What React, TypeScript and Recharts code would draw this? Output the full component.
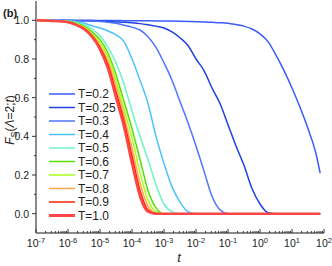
import { LineChart, Line, XAxis, YAxis } from "recharts";

// time grid (t), shared by all curves
const TIME = [
  1e-7, 3.16e-7, 1e-6, 1.78e-6, 3.16e-6, 5.62e-6, 1e-5, 1.78e-5, 3.16e-5, 5.62e-5,
  1e-4, 1.78e-4, 3.16e-4, 5.62e-4, 1e-3, 1.78e-3, 3.16e-3, 5.62e-3, 0.01, 0.0178,
  0.0316, 0.0562, 0.1, 0.178, 0.316, 0.562, 1, 1.78, 3.16, 5.62, 10, 17.8, 31.6, 56.2, 76,
];

const FS_T02 = [
  1, 1, 1, 1, 1, 1, 0.999, 0.999, 0.999, 0.998, 0.998, 0.998, 0.998, 0.997, 0.997, 0.996,
  0.995, 0.994, 0.993, 0.992, 0.99, 0.988, 0.985, 0.978, 0.97, 0.955, 0.93, 0.89, 0.82,
  0.74, 0.65, 0.55, 0.44, 0.31, 0.21,
];
const FS_T025 = [
  1, 1, 0.999, 0.998, 0.998, 0.997, 0.996, 0.994, 0.992, 0.99, 0.987, 0.983, 0.977, 0.97,
  0.96, 0.94, 0.91, 0.87, 0.8, 0.74, 0.65, 0.57, 0.46, 0.35, 0.25, 0.13, 0.05, 0.005,
  0, 0, 0, 0, 0, 0, 0,
];
const FS_T03 = [
  1, 1, 0.999, 0.998, 0.997, 0.996, 0.994, 0.99, 0.985, 0.975, 0.965, 0.95, 0.915, 0.86,
  0.78, 0.69, 0.58, 0.47, 0.35, 0.22, 0.09, 0.02, 0,
  0, 0, 0, 0, 0, 0, 0, 0, 0, 0, 0, 0,
];
const FS_T04 = [
  1, 0.999, 0.997, 0.993, 0.985, 0.972, 0.96, 0.945, 0.925, 0.89, 0.8, 0.69, 0.57, 0.4,
  0.26, 0.14, 0.06, 0.01, 0,
  0, 0, 0, 0, 0, 0, 0, 0, 0, 0, 0, 0, 0, 0, 0, 0, 0,
];
const FS_T05 = [
  1, 0.999, 0.996, 0.989, 0.977, 0.955, 0.92, 0.86, 0.78, 0.67, 0.53, 0.4, 0.28, 0.15,
  0.05, 0.01, 0,
  0, 0, 0, 0, 0, 0, 0, 0, 0, 0, 0, 0, 0, 0, 0, 0, 0, 0,
];
const FS_T06 = [
  1, 0.998, 0.994, 0.985, 0.97, 0.94, 0.9, 0.83, 0.72, 0.58, 0.44, 0.28, 0.12, 0.03, 0,
  0, 0, 0, 0, 0, 0, 0, 0, 0, 0, 0, 0, 0, 0, 0, 0, 0, 0, 0, 0,
];
const FS_T07 = [
  1, 0.998, 0.993, 0.983, 0.966, 0.93, 0.885, 0.81, 0.69, 0.54, 0.39, 0.21, 0.07, 0.01, 0,
  0, 0, 0, 0, 0, 0, 0, 0, 0, 0, 0, 0, 0, 0, 0, 0, 0, 0, 0, 0,
];
const FS_T08 = [
  1, 0.998, 0.992, 0.981, 0.962, 0.925, 0.87, 0.79, 0.66, 0.51, 0.34, 0.16, 0.04, 0.003, 0,
  0, 0, 0, 0, 0, 0, 0, 0, 0, 0, 0, 0, 0, 0, 0, 0, 0, 0, 0, 0,
];
const FS_T09 = [
  1, 0.997, 0.991, 0.979, 0.958, 0.92, 0.86, 0.77, 0.63, 0.48, 0.3, 0.12, 0.02, 0,
  0, 0, 0, 0, 0, 0, 0, 0, 0, 0, 0, 0, 0, 0, 0, 0, 0, 0, 0, 0, 0,
];
const FS_T10 = [
  1, 0.997, 0.99, 0.977, 0.955, 0.915, 0.85, 0.75, 0.6, 0.45, 0.26, 0.09, 0.01, 0,
  0, 0, 0, 0, 0, 0, 0, 0, 0, 0, 0, 0, 0, 0, 0, 0, 0, 0, 0, 0, 0,
];

const LABELS = ["T=0.2", "T=0.25", "T=0.3", "T=0.4", "T=0.5", "T=0.6", "T=0.7", "T=0.8", "T=0.9", "T=1.0"];
const VALUES = [FS_T02, FS_T025, FS_T03, FS_T04, FS_T05, FS_T06, FS_T07, FS_T08, FS_T09, FS_T10];
const COLORS = [
  "#3a5cff", "#2040e0", "#4f74ff", "#4cc2ff", "#6ff5c5",
  "#55e000", "#a8ff1a", "#ffa64d", "#ff2000", "#ff4545",
];
const WIDTHS = [1.5, 1.5, 1.5, 1.5, 1.5, 1.5, 1.5, 1.5, 1.5, 2.5];

const X_EXPONENTS = [-7, -6, -5, -4, -3, -2, -1, 0, 1, 2];
const Y_MAJOR = [0, 0.2, 0.4, 0.6, 0.8, 1.0];
const Y_MINOR = [0.1, 0.3, 0.5, 0.7, 0.9];

const X_MAJOR = X_EXPONENTS.map((e) => Math.pow(10, e));
const X_MINOR = X_EXPONENTS.slice(0, -1).flatMap((e) =>
  [2, 3, 4, 5, 6, 7, 8, 9].map((m) => m * Math.pow(10, e))
);
const X_TICKS = [...X_MAJOR, ...X_MINOR].sort((a, b) => a - b);
const Y_TICKS = [...Y_MAJOR, ...Y_MINOR].sort((a, b) => a - b);

const data = TIME.map((t, i) => {
  const row: Record<string, number> = { t };
  VALUES.forEach((v, k) => {
    row["s" + k] = v[i];
  });
  return row;
});

const FONT = "'Liberation Sans', Arial, sans-serif";

const isMajorX = (v: number) => {
  const l = Math.log10(v);
  return Math.abs(l - Math.round(l)) < 1e-6;
};
const isMajorY = (v: number) => Math.round(v * 10) % 2 === 0;

const BottomTick = (props: any) => {
  const { x, y, payload } = props;
  const major = isMajorX(payload.value);
  const exp = Math.round(Math.log10(payload.value));
  return (
    <g>
      <line x1={x} x2={x} y1={y} y2={y - (major ? 4 : 2)} stroke="#333" strokeWidth={1} />
      {major && (
        <text x={x} y={y + 14} textAnchor="middle" fontSize={10.5} fill="#222" fontFamily={FONT}>
          10
          <tspan dy={-4} fontSize={7.5}>
            {String(exp)}
          </tspan>
        </text>
      )}
    </g>
  );
};

const TopTick = (props: any) => {
  const { x, y, payload } = props;
  const major = isMajorX(payload.value);
  return <line x1={x} x2={x} y1={y} y2={y + (major ? 4 : 2)} stroke="#333" strokeWidth={1} />;
};

const LeftTick = (props: any) => {
  const { x, y, payload } = props;
  const major = isMajorY(payload.value);
  return (
    <g>
      <line x1={x - (major ? 4 : 2)} x2={x} y1={y} y2={y} stroke="#333" strokeWidth={1} />
      {major && (
        <text x={x - 7} y={y + 4} textAnchor="end" fontSize={10.5} fill="#222" fontFamily={FONT}>
          {payload.value.toFixed(1)}
        </text>
      )}
    </g>
  );
};

const RightTick = (props: any) => {
  const { x, y, payload } = props;
  const major = isMajorY(payload.value);
  return <line x1={x - (major ? 4 : 2)} x2={x} y1={y} y2={y} stroke="#333" strokeWidth={1} />;
};

export default function App() {
  return (
    <div style={{ position: "absolute", left: 0, top: 0, width: 332, height: 266, background: "#fff" }}>
      <LineChart width={332} height={266} data={data} margin={{ top: 1, right: 8, bottom: 0, left: 0 }}>
        <XAxis
          dataKey="t"
          type="number"
          scale="log"
          domain={[1e-7, 100]}
          allowDataOverflow
          ticks={X_TICKS}
          interval={0}
          tick={<BottomTick />}
          tickSize={0}
          tickMargin={0}
          tickLine={false}
          height={33}
          axisLine={{ stroke: "#8a8a8a", strokeWidth: 2 }}
        />
        <XAxis
          xAxisId="top"
          orientation="top"
          dataKey="t"
          type="number"
          scale="log"
          domain={[1e-7, 100]}
          allowDataOverflow
          ticks={X_TICKS}
          interval={0}
          tick={<TopTick />}
          tickSize={0}
          tickMargin={0}
          tickLine={false}
          height={0}
          axisLine={{ stroke: "#333", strokeWidth: 1 }}
        />
        <YAxis
          type="number"
          domain={[-0.1, 1.1]}
          allowDataOverflow
          ticks={Y_TICKS}
          interval={0}
          tick={<LeftTick />}
          tickSize={0}
          tickMargin={0}
          tickLine={false}
          width={36}
          axisLine={{ stroke: "#8a8a8a", strokeWidth: 2 }}
        />
        <YAxis
          yAxisId="right"
          orientation="right"
          type="number"
          domain={[-0.1, 1.1]}
          allowDataOverflow
          ticks={Y_TICKS}
          interval={0}
          tick={<RightTick />}
          tickSize={0}
          tickMargin={0}
          tickLine={false}
          width={0}
          axisLine={{ stroke: "#333", strokeWidth: 1 }}
        />
        {LABELS.map((name, k) => (
          <Line
            key={name}
            name={name}
            dataKey={"s" + k}
            type="monotone"
            stroke={COLORS[k]}
            strokeWidth={WIDTHS[k]}
            dot={false}
            isAnimationActive={false}
          />
        ))}
      </LineChart>

      <svg
        width={332}
        height={266}
        style={{ position: "absolute", left: 0, top: 0, pointerEvents: "none" }}
        fontFamily={FONT}
      >
        <text x={3} y={17} fontSize={11} fontWeight="bold" fill="#222">
          (b)
        </text>
        <text
          transform="translate(14,120) rotate(-90)"
          textAnchor="middle"
          fontSize={12}
          fill="#222"
        >
          <tspan fontStyle="italic">F</tspan>
          <tspan fontSize={9} dy={3}>S</tspan>
          <tspan dy={-3}>(</tspan>
          <tspan fontStyle="italic">Λ</tspan>
          <tspan>=2;</tspan>
          <tspan fontStyle="italic">t</tspan>
          <tspan>)</tspan>
        </text>
        <text x={179} y={262} fontSize={13} fontStyle="italic" fill="#222" textAnchor="middle">
          t
        </text>
        {LABELS.map((name, k) => (
          <g key={name}>
            <line
              x1={49}
              x2={75}
              y1={94 + k * 13.5}
              y2={94 + k * 13.5}
              stroke={COLORS[k]}
              strokeWidth={k === LABELS.length - 1 ? 3 : 1.5}
            />
            <text x={78} y={98 + k * 13.5} fontSize={12} fill="#222">
              {name}
            </text>
          </g>
        ))}
      </svg>
    </div>
  );
}
